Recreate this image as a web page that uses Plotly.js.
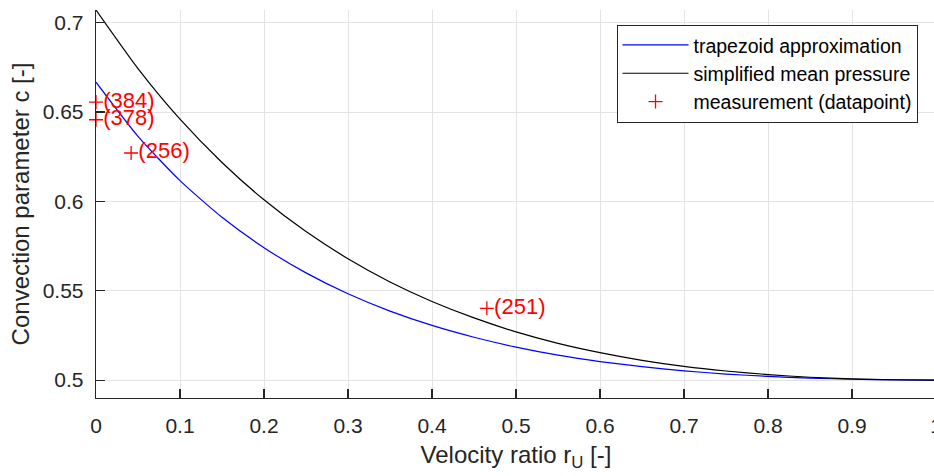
<!DOCTYPE html>
<html>
<head>
<meta charset="utf-8">
<script src="https://cdn.plot.ly/plotly-3.0.1.min.js"></script>
<style>
html, body { margin: 0; padding: 0; overflow: hidden; background: #fff; }
#chart { width: 940px; height: 476px; }
</style>
</head>
<body>
<div id="chart"></div>
<script>
// velocity ratio grid
var rU = [0, 0.05, 0.1, 0.15, 0.2, 0.25, 0.3, 0.35, 0.4, 0.45, 0.5, 0.55, 0.6, 0.65, 0.7, 0.75, 0.8, 0.85, 0.9, 0.95, 1];
// trapezoid approximation (blue)
var cTrapezoid = [0.6667, 0.6364, 0.6116, 0.5911, 0.5741, 0.5600, 0.5483, 0.5386, 0.5306, 0.5240, 0.5185, 0.5140, 0.5104, 0.5075, 0.5052, 0.5034, 0.5021, 0.5011, 0.5005, 0.5001, 0.5000];
// simplified mean pressure (black)
var cMeanPressure = [0.7071, 0.6743, 0.6460, 0.6218, 0.6009, 0.5831, 0.5679, 0.5549, 0.5440, 0.5348, 0.5270, 0.5206, 0.5154, 0.5111, 0.5077, 0.5051, 0.5031, 0.5016, 0.5007, 0.5002, 0.5000];
// measurements
var measX = [0, 0, 0.0418, 0.4653];
var measY = [0.6556, 0.6457, 0.6271, 0.5402];
var measLabels = ["(384)", "(378)", "(256)", "(251)"];
// ticks
var xTickVals = [0, 0.1, 0.2, 0.3, 0.4, 0.5, 0.6, 0.7, 0.8, 0.9, 1];
var xTickText = ["0", "0.1", "0.2", "0.3", "0.4", "0.5", "0.6", "0.7", "0.8", "0.9", "1"];
var yTickVals = [0.5, 0.55, 0.6, 0.65, 0.7];
var yTickText = ["0.5", "0.55", "0.6", "0.65", "0.7"];

var FONT = "Liberation Sans, Arial, Helvetica, sans-serif";
var AX = "#262626";

var traces = [
  {
    x: rU, y: cTrapezoid, type: "scatter", mode: "lines",
    name: "trapezoid approximation",
    line: { color: "#0000ff", width: 1.2, shape: "spline", smoothing: 0.6 }
  },
  {
    x: rU, y: cMeanPressure, type: "scatter", mode: "lines",
    name: "simplified mean pressure",
    line: { color: "#000000", width: 1.2, shape: "spline", smoothing: 0.6 }
  },
  {
    x: measX, y: measY, type: "scatter", mode: "markers+text",
    name: "measurement (datapoint)",
    text: measLabels, textposition: "middle right",
    textfont: { family: FONT, size: 22, color: "#ff0000" },
    marker: { symbol: "cross-thin-open", size: 10, color: "#ff0000", line: { color: "#ff0000", width: 1.3 } },
    cliponaxis: false
  }
];

var layout = {
  width: 940, height: 476,
  margin: { l: 96, r: 4, t: 10, b: 78 },
  paper_bgcolor: "#ffffff", plot_bgcolor: "#ffffff",
  font: { family: FONT, color: AX, size: 21 },
  showlegend: true,
  legend: {
    x: 0.978, y: 0.962, xanchor: "right", yanchor: "top",
    bgcolor: "#ffffff", bordercolor: AX, borderwidth: 1,
    font: { family: FONT, size: 19.5, color: "#000000" },
    itemwidth: 66, tracegroupgap: 0
  },
  xaxis: {
    range: [0, 1], tickmode: "array", tickvals: xTickVals, ticktext: xTickText,
    ticks: "inside", ticklen: 9, tickwidth: 1.2, tickcolor: AX,
    showline: true, linecolor: AX, linewidth: 1.3, mirror: false,
    showgrid: true, gridcolor: "#e3e3e3", gridwidth: 1, zeroline: false,
    tickfont: { family: FONT, size: 21, color: AX },
    ticklabelstandoff: 8, ticklabeloverflow: "allow",
    title: { text: "Velocity ratio r<sub>U</sub> [-]", font: { family: FONT, size: 24, color: AX }, standoff: 10 }
  },
  yaxis: {
    range: [0.49, 0.7071], tickmode: "array", tickvals: yTickVals, ticktext: yTickText,
    ticks: "inside", ticklen: 9, tickwidth: 1.2, tickcolor: AX,
    showline: true, linecolor: AX, linewidth: 1.3, mirror: false,
    showgrid: true, gridcolor: "#e3e3e3", gridwidth: 1, zeroline: false,
    tickfont: { family: FONT, size: 21, color: AX },
    ticklabelstandoff: 7,
    title: { text: "Convection parameter c [-]", font: { family: FONT, size: 24, color: AX }, standoff: 6 }
  }
};

Plotly.newPlot("chart", traces, layout, { displayModeBar: false, staticPlot: true });
</script>
</body>
</html>
